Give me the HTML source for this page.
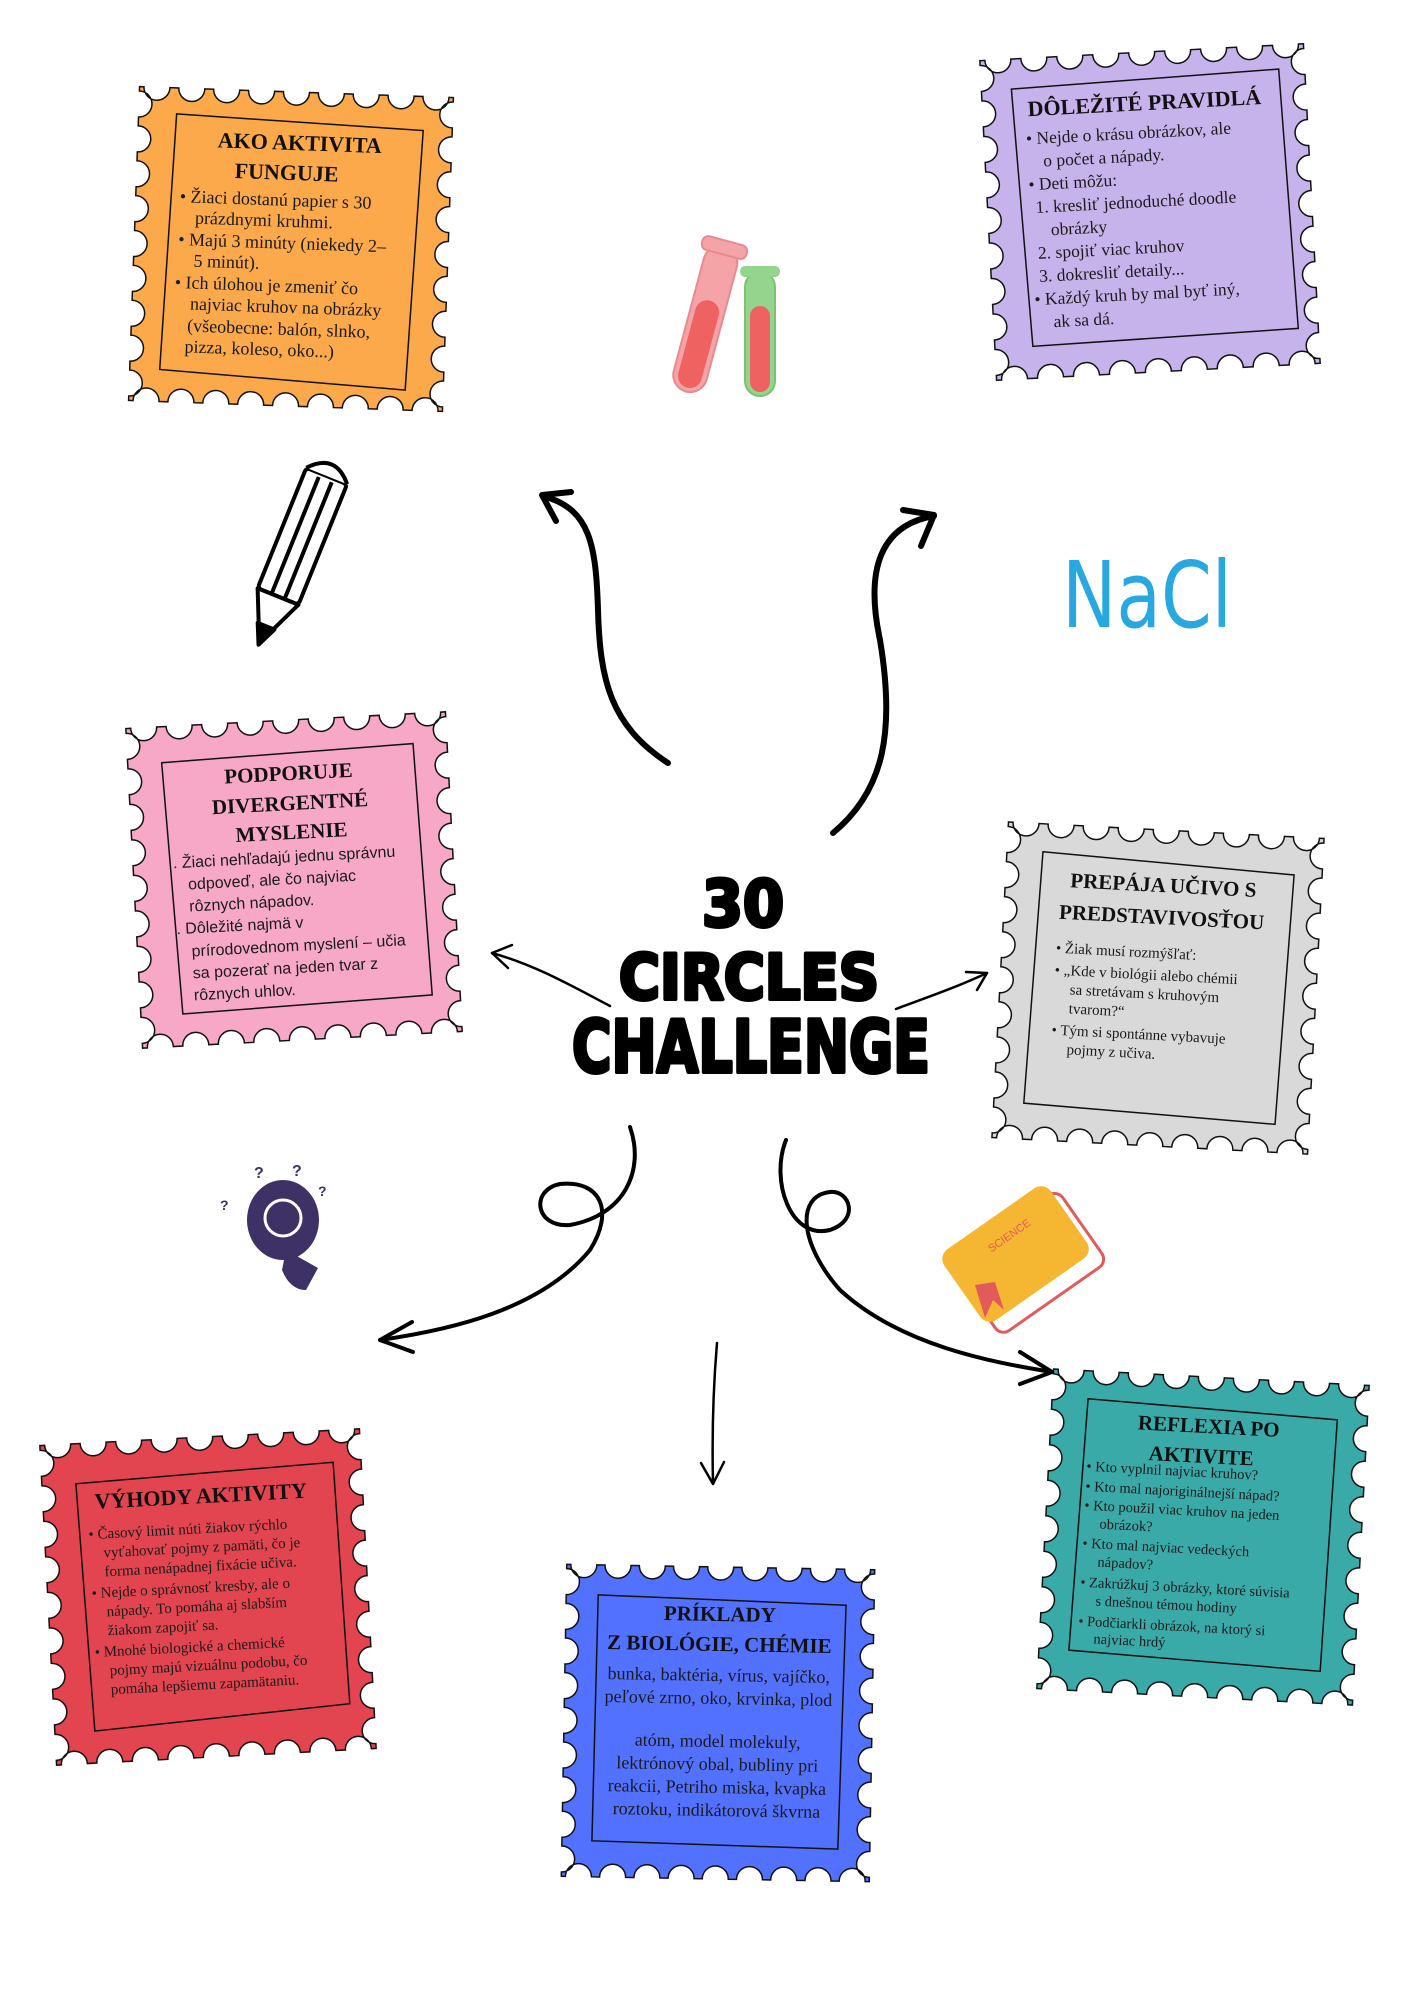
<!DOCTYPE html>
<html><head><meta charset="utf-8"><style>
html,body{margin:0;padding:0;background:#fff;}
svg{display:block;}
.tt{font-family:"Liberation Serif",serif;font-weight:bold;fill:#111;}
.bd{font-family:"Liberation Serif",serif;fill:#1a1a1a;}
.sn{font-family:"Liberation Sans",sans-serif;fill:#1a1a1a;}
.ar{fill:none;stroke:#000;stroke-linecap:round;stroke-linejoin:round;}
</style></head><body>
<svg id="s" width="1414" height="2000" viewBox="0 0 1414 2000" xmlns="http://www.w3.org/2000/svg">
<rect width="1414" height="2000" fill="#fff"/>

<!-- Orange -->
<g class="st" transform="translate(134,92) rotate(2,157,157)">
<path class="sc" fill="#fba94a" stroke="#111" stroke-width="1.5" d="" />
<text class="w" visibility="hidden">314,314</text>
<polygon points="38,26 285,34 276,294 30,282" fill="none" stroke="#111" stroke-width="1.5"/>
<text class="tt" x="162" y="58" font-size="22" text-anchor="middle">AKO AKTIVITA</text>
<text class="tt" x="150" y="88" font-size="22" text-anchor="middle">FUNGUJE</text>
<g class="bd" font-size="18">
<text x="44" y="114">•  Žiaci dostanú papier s 30</text>
<text x="60" y="135">prázdnymi kruhmi.</text>
<text x="44" y="157">•  Majú 3 minúty (niekedy 2–</text>
<text x="60" y="178">5 minút).</text>
<text x="42" y="200">•  Ich úlohou je zmeniť čo</text>
<text x="58" y="221">najviac kruhov na obrázky</text>
<text x="56" y="243">(všeobecne: balón, slnko,</text>
<text x="54" y="264">pizza, koleso, oko...)</text>
</g></g>

<!-- Purple -->
<g class="st" transform="translate(988,52) rotate(-3,162,160)">
<path class="sc" fill="#c6b3ec" stroke="#111" stroke-width="1.5" d="" />
<text class="w" visibility="hidden">324,320</text>
<polygon points="30,30 298,24 304,284 38,288" fill="none" stroke="#111" stroke-width="1.5"/>
<text class="tt" x="162" y="58" font-size="22" text-anchor="middle">DÔLEŽITÉ PRAVIDLÁ</text>
<g class="bd" font-size="17.5">
<text x="42" y="86">•  Nejde o krásu obrázkov, ale</text>
<text x="58" y="109">o počet a nápady.</text>
<text x="42" y="132">•  Deti môžu:</text>
<text x="48" y="155">1. kresliť jednoduché doodle</text>
<text x="62" y="178">obrázky</text>
<text x="48" y="201">2. spojiť viac kruhov</text>
<text x="48" y="224">3. dokresliť detaily...</text>
<text x="42" y="247">•  Každý kruh by mal byť iný,</text>
<text x="60" y="270">ak sa dá.</text>
</g></g>

<!-- Pink -->
<g class="st" transform="translate(134,720) rotate(-3,160,160)">
<path class="sc" fill="#f7a8c6" stroke="#111" stroke-width="1.5" d="" />
<text class="w" visibility="hidden">320,320</text>
<polygon points="34,36 286,30 292,282 42,288" fill="none" stroke="#111" stroke-width="1.5"/>
<text class="tt" x="160" y="60" font-size="21" text-anchor="middle">PODPORUJE</text>
<text class="tt" x="160" y="90" font-size="21" text-anchor="middle">DIVERGENTNÉ</text>
<text class="tt" x="160" y="119" font-size="21" text-anchor="middle">MYSLENIE</text>
<g class="sn" font-size="16">
<text x="40" y="142">.  Žiaci nehľadajú jednu správnu</text>
<text x="54" y="164">odpoveď, ale čo najviac</text>
<text x="54" y="186">rôznych nápadov.</text>
<text x="40" y="208">.  Dôležité najmä v</text>
<text x="54" y="231">prírodovednom myslení – učia</text>
<text x="54" y="253">sa pozerať na jeden tvar z</text>
<text x="54" y="275">rôznych uhlov.</text>
</g></g>

<!-- Gray -->
<g class="st" transform="translate(1000,830) rotate(3,158,158)">
<path class="sc" fill="#d9d9d9" stroke="#111" stroke-width="1.5" d="" />
<text class="w" visibility="hidden">316,316</text>
<polygon points="36,28 288,38 282,288 30,280" fill="none" stroke="#111" stroke-width="1.5"/>
<text class="tt" x="158" y="62" font-size="21" text-anchor="middle">PREPÁJA UČIVO S</text>
<text class="tt" x="158" y="94" font-size="21" text-anchor="middle">PREDSTAVIVOSŤOU</text>
<g class="bd" font-size="15">
<text x="54" y="128">•  Žiak musí rozmýšľať:</text>
<text x="54" y="150">•  „Kde v biológii alebo chémii</text>
<text x="70" y="169">sa stretávam s kruhovým</text>
<text x="70" y="188">tvarom?“</text>
<text x="54" y="210">•  Tým si spontánne vybavuje</text>
<text x="70" y="229">pojmy z učiva.</text>
</g></g>

<!-- Red -->
<g class="st" transform="translate(48,1437) rotate(-3,160,160)">
<path class="sc" fill="#e2454f" stroke="#111" stroke-width="1.5" d="" />
<text class="w" visibility="hidden">320,320</text>
<polygon points="34,40 292,32 296,274 40,288" fill="none" stroke="#111" stroke-width="1.5"/>
<text class="tt" x="158" y="66" font-size="22" text-anchor="middle">VÝHODY AKTIVITY</text>
<g class="bd" font-size="15">
<text x="44" y="96">•  Časový limit núti žiakov rýchlo</text>
<text x="58" y="115">vyťahovať pojmy z pamäti, čo je</text>
<text x="58" y="134">forma nenápadnej fixácie učiva.</text>
<text x="44" y="155">•  Nejde o správnosť kresby, ale o</text>
<text x="58" y="174">nápady. To pomáha aj slabším</text>
<text x="58" y="193">žiakom zapojiť sa.</text>
<text x="44" y="214">•  Mnohé biologické a chemické</text>
<text x="58" y="233">pojmy majú vizuálnu podobu, čo</text>
<text x="58" y="252">pomáha lepšiemu zapamätaniu.</text>
</g></g>

<!-- Blue -->
<g class="st" transform="translate(564,1567) rotate(1,154,156)">
<path class="sc" fill="#5271ff" stroke="#111" stroke-width="1.5" d="" />
<text class="w" visibility="hidden">308,312</text>
<polygon points="32,30 280,36 276,280 30,276" fill="none" stroke="#111" stroke-width="1.5"/>
<text class="tt" x="154" y="54" font-size="21" text-anchor="middle">PRÍKLADY</text>
<text class="tt" x="154" y="84" font-size="21" text-anchor="middle">Z BIOLÓGIE, CHÉMIE</text>
<g class="bd" font-size="18" text-anchor="middle">
<text x="154" y="114">bunka, baktéria, vírus, vajíčko,</text>
<text x="154" y="137">peľové zrno, oko, krvinka, plod</text>
<text x="154" y="180">atóm, model molekuly,</text>
<text x="154" y="203">lektrónový obal, bubliny pri</text>
<text x="154" y="226">reakcii, Petriho miska, kvapka</text>
<text x="154" y="249">roztoku, indikátorová škvrna</text>
</g></g>

<!-- Teal -->
<g class="st" transform="translate(1045,1377) rotate(3,158,160)">
<path class="sc" fill="#3aaaa9" stroke="#111" stroke-width="1.5" d="" />
<text class="w" visibility="hidden">316,320</text>
<polygon points="36,28 286,36 282,288 30,280" fill="none" stroke="#111" stroke-width="1.5"/>
<text class="tt" x="158" y="56" font-size="21" text-anchor="middle">REFLEXIA PO</text>
<text class="tt" x="152" y="86" font-size="21" text-anchor="middle">AKTIVITE</text>
<g class="bd" font-size="14.5">
<text x="38" y="100">•  Kto vyplnil najviac kruhov?</text>
<text x="38" y="120">•  Kto mal najoriginálnejší nápad?</text>
<text x="38" y="139">•  Kto použil viac kruhov na jeden</text>
<text x="54" y="157">obrázok?</text>
<text x="38" y="177">•  Kto mal najviac vedeckých</text>
<text x="54" y="195">nápadov?</text>
<text x="38" y="216">•  Zakrúžkuj 3 obrázky, ktoré súvisia</text>
<text x="54" y="234">s dnešnou témou hodiny</text>
<text x="38" y="255">•  Podčiarkli obrázok, na ktorý si</text>
<text x="54" y="272">najviac hrdý</text>
</g></g>

<!-- Title -->
<g font-family="DejaVu Sans, sans-serif" font-weight="bold" fill="#000" stroke="#000" stroke-width="4" stroke-linejoin="round">
<text x="702" y="926" font-size="64" textLength="82" lengthAdjust="spacingAndGlyphs">30</text>
<text x="619" y="999" font-size="62" textLength="260" lengthAdjust="spacingAndGlyphs">CIRCLES</text>
<text x="572" y="1072" font-size="72" textLength="358" lengthAdjust="spacingAndGlyphs">CHALLENGE</text>
</g>

<!-- Arrows -->
<g class="ar" stroke-width="6">
<path d="M668,763 C610,725 600,680 598,610 C596,545 590,510 546,497"/>
<path d="M571,492 L542,495 L556,521"/>
<path d="M833,833 C885,790 895,730 880,640 C865,570 880,525 934,516"/>
<path d="M903,510 L934,515 L921,546"/>
</g>
<g class="ar" stroke-width="2.5">
<path d="M610,1006 C570,985 535,965 492,953"/>
<path d="M512,945 L492,953 L508,968"/>
<path d="M896,1009 C925,998 955,988 987,973"/>
<path d="M966,972 L987,973 L977,990"/>
</g>
<g class="ar" stroke-width="4">
<path d="M630,1127 C645,1170 625,1215 570,1225 C535,1228 530,1190 560,1184 C600,1180 615,1210 590,1250 C540,1310 450,1330 380,1340"/>
<path d="M412,1322 L380,1340 L413,1352"/>
<path d="M786,1140 C770,1180 790,1240 830,1230 C860,1220 850,1190 830,1192 C795,1196 800,1245 840,1290 C900,1345 990,1362 1052,1372"/>
<path d="M1020,1352 L1052,1372 L1020,1384"/>
</g>
<g class="ar" stroke-width="2.5">
<path d="M717,1343 C713,1390 712,1440 713,1484"/>
<path d="M701,1463 L713,1484 L724,1462"/>
</g>

<!-- Test tubes -->
<g transform="rotate(15,705,320)">
<rect x="688" y="244" width="34" height="150" rx="17" fill="#f4a3a7" stroke="#e98a90" stroke-width="2"/>
<rect x="693" y="300" width="24" height="90" rx="12" fill="#ef6262"/>
<rect x="682" y="238" width="46" height="14" rx="6" fill="#f4a3a7" stroke="#e98a90" stroke-width="2"/>
</g>
<rect x="745" y="272" width="30" height="124" rx="15" fill="#95d48c" stroke="#7cc272" stroke-width="2"/>
<rect x="750" y="306" width="20" height="86" rx="10" fill="#ef6262"/>
<rect x="740" y="266" width="40" height="11" rx="5" fill="#95d48c"/>

<!-- Pencil -->
<g transform="rotate(22,296,552)" fill="#fff" stroke="#000" stroke-width="4" stroke-linejoin="round">
<rect x="274" y="470" width="44" height="130" rx="4"/>
<path d="M274,470 Q296,445 318,470"/>
<line x1="289" y1="474" x2="289" y2="598"/>
<line x1="303" y1="474" x2="303" y2="598"/>
<path d="M274,600 L296,650 L318,600 Z"/>
<path d="M287,632 L296,652 L305,632 Z" fill="#000"/>
</g>

<!-- NaCl -->
<text x="1062" y="627" font-family="DejaVu Sans, sans-serif" font-size="92" fill="#29a8e0" textLength="170" lengthAdjust="spacingAndGlyphs">NaCl</text>

<!-- Brain bulb -->
<g>
<ellipse cx="283" cy="1220" rx="36" ry="40" fill="#3e3166"/>
<path d="M286,1250 L318,1268 L306,1290 Q290,1290 282,1270 Z" fill="#3e3166"/>
<circle cx="283" cy="1218" r="18" fill="none" stroke="#fff" stroke-width="3"/>
<text x="254" y="1178" font-family="Liberation Sans,sans-serif" font-size="16" font-weight="bold" fill="#3e3166">?</text>
<text x="292" y="1176" font-family="Liberation Sans,sans-serif" font-size="16" font-weight="bold" fill="#3e3166">?</text>
<text x="318" y="1196" font-family="Liberation Sans,sans-serif" font-size="14" font-weight="bold" fill="#3e3166">?</text>
<text x="220" y="1210" font-family="Liberation Sans,sans-serif" font-size="14" font-weight="bold" fill="#3e3166">?</text>
</g>

<!-- Book -->
<g transform="rotate(-35,1022,1258)">
<rect x="960" y="1222" width="130" height="88" rx="10" fill="#fff" stroke="#e25b5b" stroke-width="3"/>
<rect x="954" y="1208" width="130" height="86" rx="12" fill="#f5b731"/>
<text x="1000" y="1236" font-family="Liberation Sans,sans-serif" font-size="11" fill="#e25b5b">SCIENCE</text>
</g>
<path d="M975,1285 L985,1318 L993,1300 L1004,1310 L995,1282 Z" fill="#e25b5b"/>
</svg>
<script>
(function(){
function scallop(w,h,r,sp){
 var d="M0,0", edges=[[0,0,1,0,w],[w,0,0,1,h],[w,h,-1,0,w],[0,h,0,-1,h]];
 edges.forEach(function(e){
  var n=Math.max(1,Math.round(e[4]/sp)), step=e[4]/n;
  for(var i=0;i<n;i++){
   var c=(i+0.5)*step;
   var ax=e[0]+e[2]*(c-r), ay=e[1]+e[3]*(c-r);
   var bx=e[0]+e[2]*(c+r), by=e[1]+e[3]*(c+r);
   d+=" L"+ax.toFixed(1)+","+ay.toFixed(1)+" A"+r+","+r+" 0 0 0 "+bx.toFixed(1)+","+by.toFixed(1);
  }
  d+=" L"+(e[0]+e[2]*e[4])+","+(e[1]+e[3]*e[4]);
 });
 return d+" Z";
}
document.querySelectorAll("g.st").forEach(function(g){
 var wh=g.querySelector("text.w").textContent.split(","), w=+wh[0], h=+wh[1];
 g.querySelector("path.sc").setAttribute("d",scallop(w,h,13,36));
 g.querySelectorAll("text").forEach(function(t){
  if(t.classList.contains("w"))return;
  try{
   var x=+t.getAttribute("x")||0, L=t.getComputedTextLength();
   var anchor=t.getAttribute("text-anchor")||(t.parentNode.getAttribute&&t.parentNode.getAttribute("text-anchor"));
   var avail = anchor==="middle" ? (w-60) : (w-30-x);
   if(L>avail){t.setAttribute("textLength",avail);t.setAttribute("lengthAdjust","spacingAndGlyphs");}
  }catch(e){}
 });
});
})();
</script>
</body></html>
